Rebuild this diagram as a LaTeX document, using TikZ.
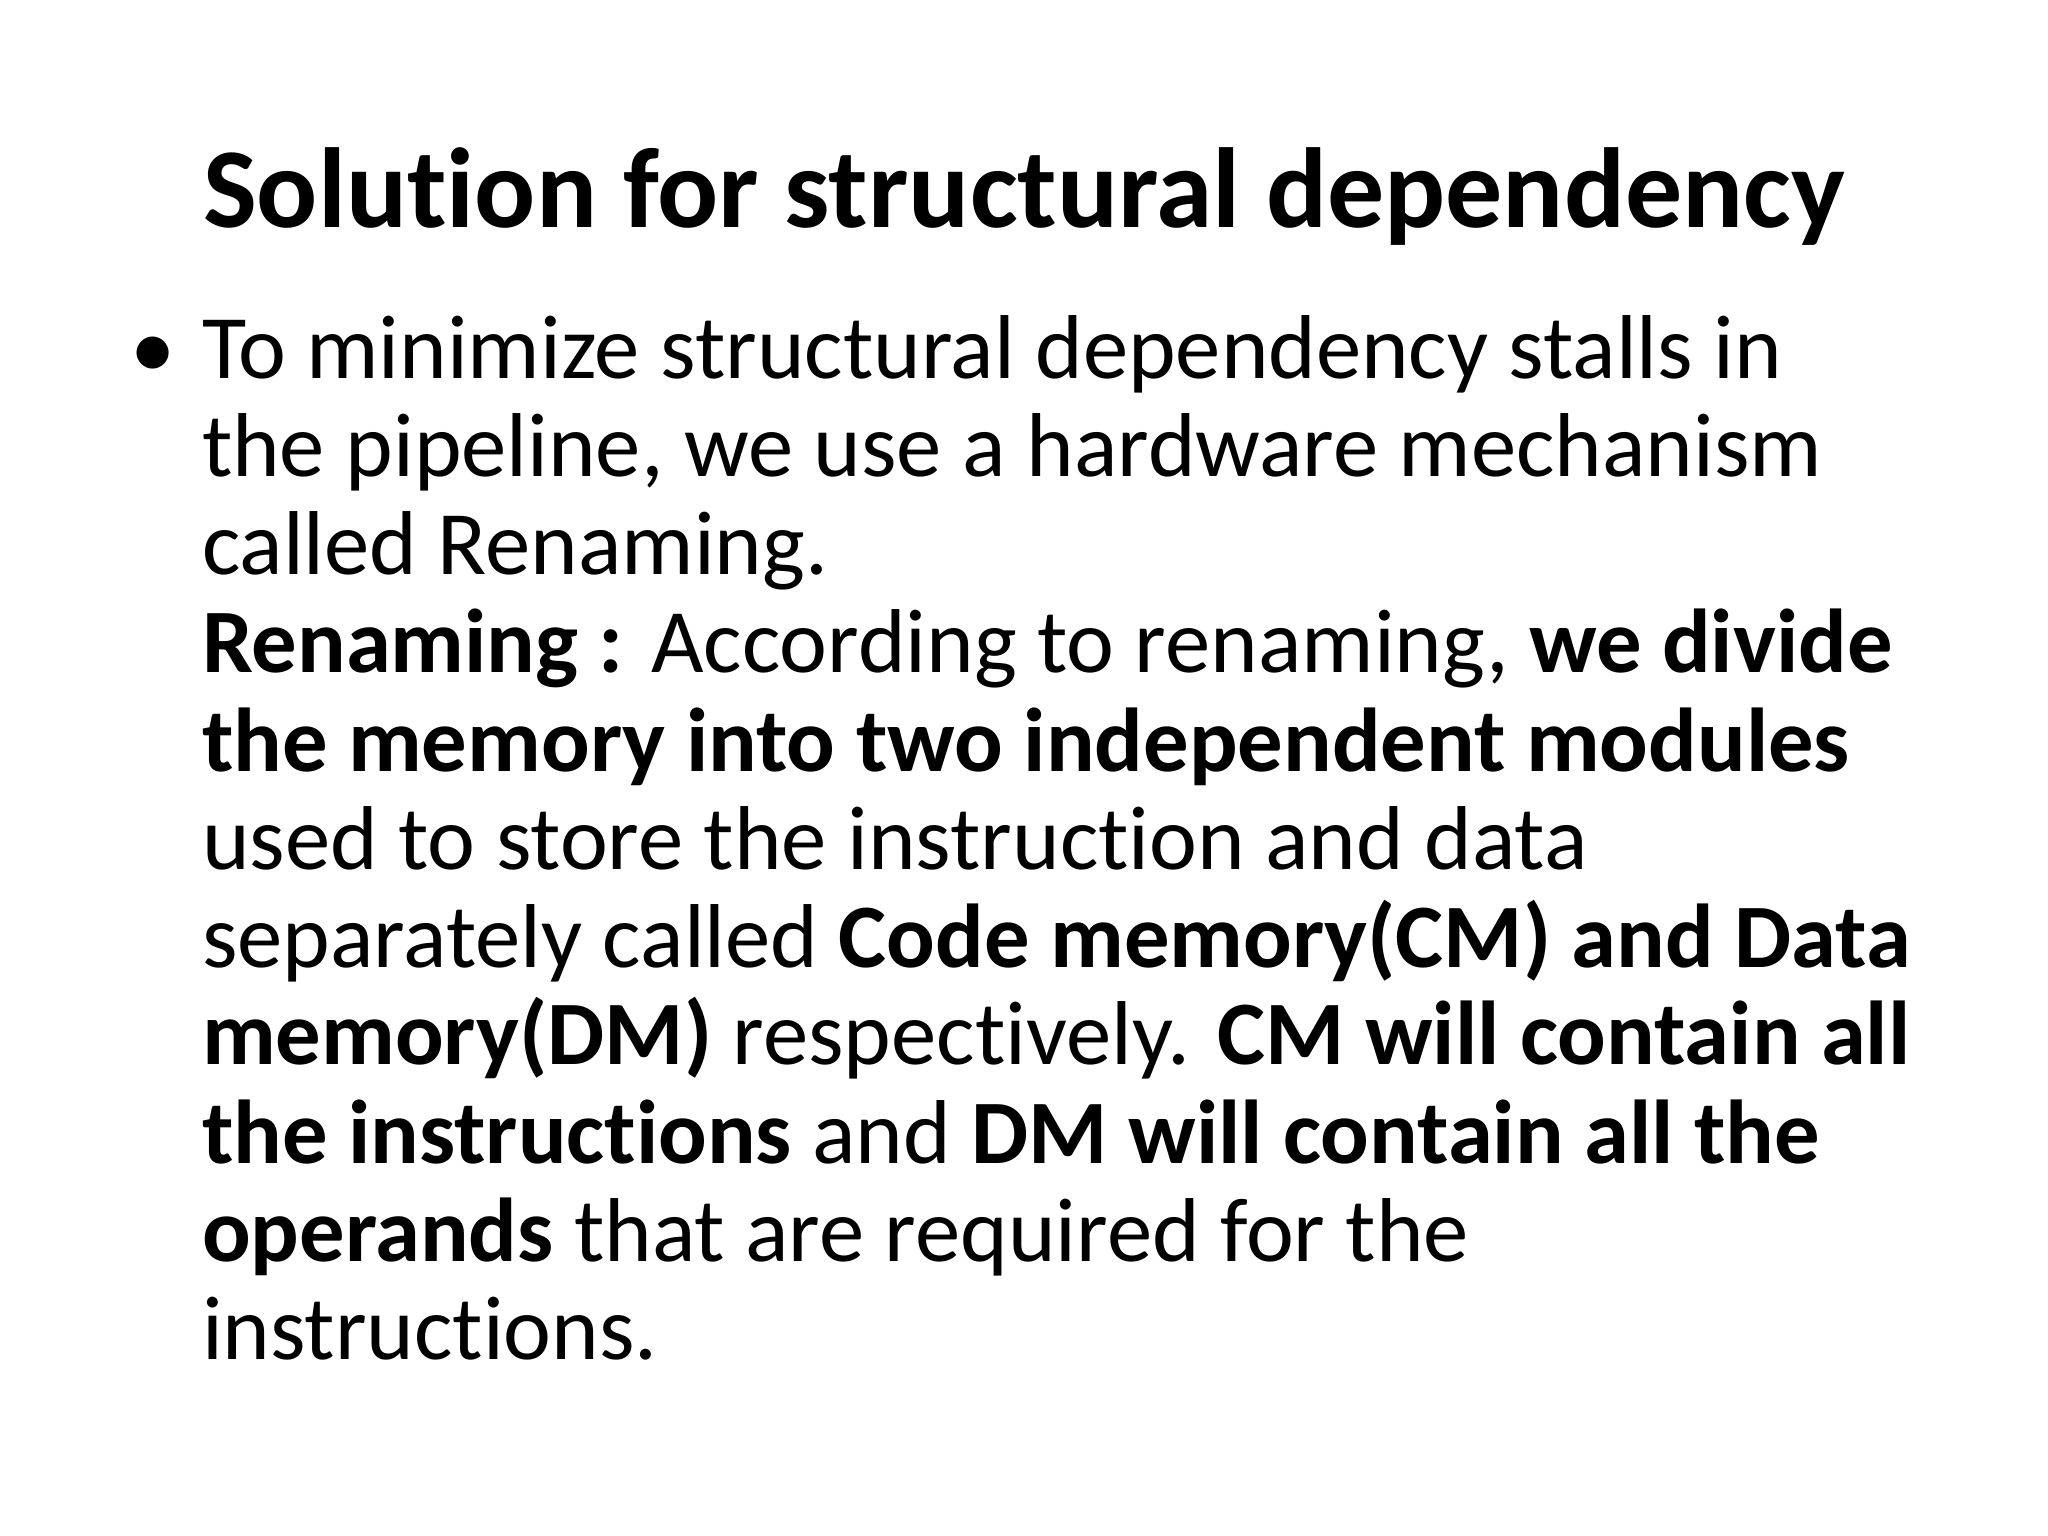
\documentclass[tikz,border=0pt]{standalone}
\usepackage{fontspec}
\setmainfont{Carlito}[Ligatures={NoCommon,TeX}]
\begin{document}
\begin{tikzpicture}[x=1cm,y=1cm,
  txt/.style={inner sep=0pt,outer sep=0pt,anchor=base west,font=\fontsize{25.8}{27.9}\selectfont}]
\useasboundingbox[fill=white] (0,0) rectangle (20.48,-15.36);
\node[inner sep=0pt,anchor=base,font=\fontsize{32.4}{38}\selectfont\bfseries] (title) at (10.24,-2.28) {Solution for structural dependency};
\node[inner sep=0pt,anchor=base,font=\fontsize{25.8}{27.9}\selectfont] (bullet) at (1.53,-3.79) {•};
\node[txt] (l1) at (2.02,-3.79) {To minimize structural dependency stalls in};
\node[txt] (l2) at (2.02,-4.77) {the pipeline, we use a hardware mechanism};
\node[txt] (l3) at (2.02,-5.75) {called Renaming.};
\node[txt] (l4) at (2.02,-6.73) {\textbf{Renaming :} According to renaming, \textbf{we divide}};
\node[txt] (l5) at (2.02,-7.71) {\textbf{the memory into two independent modules}};
\node[txt] (l6) at (2.02,-8.69) {used to store the instruction and data};
\node[txt] (l7) at (2.02,-9.67) {separately called \textbf{Code memory(CM) and Data}};
\node[txt] (l8) at (2.02,-10.65) {\textbf{memory(DM)} respectively. \textbf{CM will contain all}};
\node[txt] (l9) at (2.02,-11.63) {\textbf{the instructions} and \textbf{DM will contain all the}};
\node[txt] (l10) at (2.02,-12.61) {\textbf{operands} that are required for the};
\node[txt] (l11) at (2.02,-13.59) {instructions.};
\end{tikzpicture}
\end{document}
